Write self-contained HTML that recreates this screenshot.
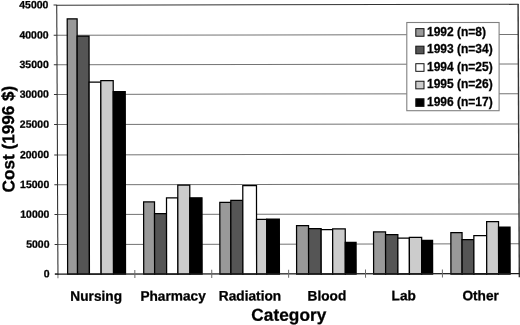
<!DOCTYPE html>
<html><head><meta charset="utf-8"><title>chart</title>
<style>
html,body{margin:0;padding:0;background:#fff;}
body{width:520px;height:325px;overflow:hidden;}
svg{display:block;filter:grayscale(1);}
text{font-family:"Liberation Sans",sans-serif;font-weight:bold;fill:#000;stroke:#000;stroke-width:0.28px;}
</style></head><body>
<svg width="520" height="325" viewBox="0 0 520 325">
<rect x="0" y="0" width="520" height="325" fill="#fff"/>
<g transform="matrix(1 -0.0015 0.0045 1 -1.0800 0.0855)">
<line x1="57.8" y1="244.50" x2="519.15" y2="244.50" stroke="#747474" stroke-width="1"/>
<line x1="57.8" y1="214.60" x2="519.15" y2="214.60" stroke="#747474" stroke-width="1"/>
<line x1="57.8" y1="184.70" x2="519.15" y2="184.70" stroke="#747474" stroke-width="1"/>
<line x1="57.8" y1="154.90" x2="519.15" y2="154.90" stroke="#747474" stroke-width="1"/>
<line x1="57.8" y1="124.60" x2="519.15" y2="124.60" stroke="#747474" stroke-width="1"/>
<line x1="57.8" y1="94.40" x2="519.15" y2="94.40" stroke="#747474" stroke-width="1"/>
<line x1="57.8" y1="64.70" x2="519.15" y2="64.70" stroke="#747474" stroke-width="1"/>
<line x1="57.8" y1="35.20" x2="519.15" y2="35.20" stroke="#747474" stroke-width="1"/>
<line x1="57.3" y1="5.199999999999999" x2="519.65" y2="5.0" stroke="#333" stroke-width="1.1"/>
<line x1="519.15" y1="4.6" x2="519.15" y2="278.0" stroke="#333" stroke-width="1.4"/>
</g>
<g transform="matrix(1 0 0.0016 1 -0.3200 0)">
<rect x="67.50" y="18.75" width="9.90" height="255.25" fill="#999999" stroke="#000" stroke-width="1.25"/>
<rect x="77.40" y="36.00" width="11.90" height="238.00" fill="#555555" stroke="#000" stroke-width="1.25"/>
<rect x="89.30" y="82.00" width="11.70" height="192.00" fill="#ffffff" stroke="#000" stroke-width="1.25"/>
<rect x="101.00" y="80.50" width="12.40" height="193.50" fill="#cccccc" stroke="#000" stroke-width="1.25"/>
<rect x="113.40" y="91.60" width="12.00" height="182.40" fill="#000000" stroke="#000" stroke-width="1.25"/>
<rect x="143.60" y="201.90" width="10.90" height="72.10" fill="#999999" stroke="#000" stroke-width="1.25"/>
<rect x="154.50" y="213.50" width="12.00" height="60.50" fill="#555555" stroke="#000" stroke-width="1.25"/>
<rect x="166.50" y="197.80" width="11.30" height="76.20" fill="#ffffff" stroke="#000" stroke-width="1.25"/>
<rect x="177.80" y="185.00" width="12.00" height="89.00" fill="#cccccc" stroke="#000" stroke-width="1.25"/>
<rect x="189.80" y="197.80" width="12.20" height="76.20" fill="#000000" stroke="#000" stroke-width="1.25"/>
<rect x="219.80" y="202.40" width="11.00" height="71.60" fill="#999999" stroke="#000" stroke-width="1.25"/>
<rect x="230.80" y="200.40" width="12.00" height="73.60" fill="#555555" stroke="#000" stroke-width="1.25"/>
<rect x="242.80" y="185.50" width="13.70" height="88.50" fill="#ffffff" stroke="#000" stroke-width="1.25"/>
<rect x="256.50" y="219.30" width="10.20" height="54.70" fill="#cccccc" stroke="#000" stroke-width="1.25"/>
<rect x="266.70" y="219.00" width="12.60" height="55.00" fill="#000000" stroke="#000" stroke-width="1.25"/>
<rect x="296.50" y="225.50" width="12.00" height="48.50" fill="#999999" stroke="#000" stroke-width="1.25"/>
<rect x="308.50" y="228.50" width="12.60" height="45.50" fill="#555555" stroke="#000" stroke-width="1.25"/>
<rect x="321.10" y="229.60" width="11.50" height="44.40" fill="#ffffff" stroke="#000" stroke-width="1.25"/>
<rect x="332.60" y="228.80" width="12.60" height="45.20" fill="#cccccc" stroke="#000" stroke-width="1.25"/>
<rect x="345.20" y="242.40" width="10.80" height="31.60" fill="#000000" stroke="#000" stroke-width="1.25"/>
<rect x="373.50" y="231.90" width="12.00" height="42.10" fill="#999999" stroke="#000" stroke-width="1.25"/>
<rect x="385.50" y="234.70" width="12.30" height="39.30" fill="#555555" stroke="#000" stroke-width="1.25"/>
<rect x="397.80" y="238.10" width="11.50" height="35.90" fill="#ffffff" stroke="#000" stroke-width="1.25"/>
<rect x="409.30" y="237.30" width="12.30" height="36.70" fill="#cccccc" stroke="#000" stroke-width="1.25"/>
<rect x="421.60" y="240.40" width="10.90" height="33.60" fill="#000000" stroke="#000" stroke-width="1.25"/>
<rect x="450.80" y="232.70" width="11.20" height="41.30" fill="#999999" stroke="#000" stroke-width="1.25"/>
<rect x="462.00" y="239.60" width="11.80" height="34.40" fill="#555555" stroke="#000" stroke-width="1.25"/>
<rect x="473.80" y="235.50" width="12.80" height="38.50" fill="#ffffff" stroke="#000" stroke-width="1.25"/>
<rect x="486.60" y="221.60" width="11.90" height="52.40" fill="#cccccc" stroke="#000" stroke-width="1.25"/>
<rect x="498.50" y="227.00" width="11.50" height="47.00" fill="#000000" stroke="#000" stroke-width="1.25"/>
</g>
<g transform="matrix(1 -0.0015 0.0045 1 -1.0800 0.0855)">
<line x1="57.8" y1="5.1" x2="57.8" y2="275.0" stroke="#222" stroke-width="1"/>
<line x1="57.8" y1="274.0" x2="57.8" y2="278.3" stroke="#777" stroke-width="1"/>
<line x1="54.8" y1="274.1" x2="519.65" y2="274.35" stroke="#1a1a1a" stroke-width="1.2"/>
<line x1="54.60" y1="274.00" x2="57.80" y2="274.00" stroke="#333" stroke-width="1"/>
<text x="49.5" y="277.20" font-size="10.5" text-anchor="end">0</text>
<line x1="54.60" y1="244.50" x2="57.80" y2="244.50" stroke="#333" stroke-width="1"/>
<text x="49.5" y="247.70" font-size="10.5" text-anchor="end">5000</text>
<line x1="54.60" y1="214.60" x2="57.80" y2="214.60" stroke="#333" stroke-width="1"/>
<text x="49.5" y="217.80" font-size="10.5" text-anchor="end">10000</text>
<line x1="54.60" y1="184.70" x2="57.80" y2="184.70" stroke="#333" stroke-width="1"/>
<text x="49.5" y="187.90" font-size="10.5" text-anchor="end">15000</text>
<line x1="54.60" y1="154.90" x2="57.80" y2="154.90" stroke="#333" stroke-width="1"/>
<text x="49.5" y="158.10" font-size="10.5" text-anchor="end">20000</text>
<line x1="54.60" y1="124.60" x2="57.80" y2="124.60" stroke="#333" stroke-width="1"/>
<text x="49.5" y="127.80" font-size="10.5" text-anchor="end">25000</text>
<line x1="54.60" y1="94.40" x2="57.80" y2="94.40" stroke="#333" stroke-width="1"/>
<text x="49.5" y="97.60" font-size="10.5" text-anchor="end">30000</text>
<line x1="54.60" y1="64.70" x2="57.80" y2="64.70" stroke="#333" stroke-width="1"/>
<text x="49.5" y="67.90" font-size="10.5" text-anchor="end">35000</text>
<line x1="54.60" y1="35.20" x2="57.80" y2="35.20" stroke="#333" stroke-width="1"/>
<text x="49.5" y="38.40" font-size="10.5" text-anchor="end">40000</text>
<line x1="54.60" y1="5.10" x2="57.80" y2="5.10" stroke="#333" stroke-width="1"/>
<text x="49.5" y="8.30" font-size="10.5" text-anchor="end">45000</text>
<line x1="134.69" y1="270.0" x2="134.69" y2="278.2" stroke="#6a6a6a" stroke-width="1"/>
<line x1="211.58" y1="270.0" x2="211.58" y2="278.2" stroke="#6a6a6a" stroke-width="1"/>
<line x1="288.48" y1="270.0" x2="288.48" y2="278.2" stroke="#6a6a6a" stroke-width="1"/>
<line x1="365.37" y1="270.0" x2="365.37" y2="278.2" stroke="#6a6a6a" stroke-width="1"/>
<line x1="442.26" y1="270.0" x2="442.26" y2="278.2" stroke="#6a6a6a" stroke-width="1"/>
<text x="95.95" y="300.8" font-size="13.7" text-anchor="middle">Nursing</text>
<text x="172.84" y="300.8" font-size="13.7" text-anchor="middle">Pharmacy</text>
<text x="249.73" y="300.8" font-size="13.7" text-anchor="middle">Radiation</text>
<text x="326.62" y="300.8" font-size="13.7" text-anchor="middle">Blood</text>
<text x="403.51" y="300.8" font-size="13.7" text-anchor="middle">Lab</text>
<text x="480.40" y="300.8" font-size="13.7" text-anchor="middle">Other</text>
<text x="288.5" y="321.1" font-size="17.3" text-anchor="middle">Category</text>
<text transform="translate(14.6,139.0) rotate(-90)" font-size="17.15" text-anchor="middle">Cost (1996 $)</text>
</g>
<rect x="406.8" y="22.5" width="92.3" height="88.2" fill="#fff" stroke="#808080" stroke-width="1.1"/>
<rect x="415.8" y="28.65" width="8.2" height="7.6" fill="#999999" stroke="#111" stroke-width="1"/>
<text x="427.0" y="35.75" font-size="12">1992 (n=8)</text>
<rect x="415.8" y="46.18" width="8.2" height="7.6" fill="#555555" stroke="#111" stroke-width="1"/>
<text x="427.0" y="53.28" font-size="12">1993 (n=34)</text>
<rect x="415.8" y="63.71" width="8.2" height="7.6" fill="#ffffff" stroke="#111" stroke-width="1"/>
<text x="427.0" y="70.81" font-size="12">1994 (n=25)</text>
<rect x="415.8" y="81.24" width="8.2" height="7.6" fill="#cccccc" stroke="#111" stroke-width="1"/>
<text x="427.0" y="88.34" font-size="12">1995 (n=26)</text>
<rect x="415.8" y="98.77" width="8.2" height="7.6" fill="#000000" stroke="#111" stroke-width="1"/>
<text x="427.0" y="105.87" font-size="12">1996 (n=17)</text>
</svg></body></html>
